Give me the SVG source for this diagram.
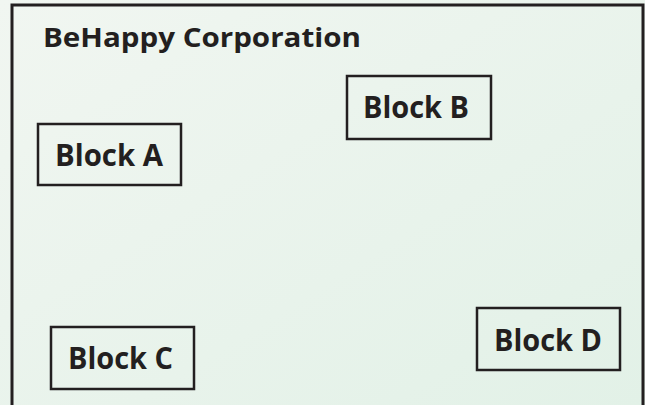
<svg xmlns="http://www.w3.org/2000/svg" width="645" height="405" viewBox="0 0 645 405">
<defs>
<linearGradient id="bg" x1="0" y1="0" x2="1" y2="1">
<stop offset="0" stop-color="#f1f6f1"/>
<stop offset="1" stop-color="#e2f1e7"/>
</linearGradient>
<style>
.frame{fill:none;stroke:#231f20;stroke-width:3}
.box{fill:none;stroke:#231f20;stroke-width:2.5}
.lbl{font-family:"Open Sans","Liberation Sans",sans-serif;font-weight:bold;fill:#231f20;font-size:31px}
.title{font-family:"Open Sans","Liberation Sans",sans-serif;font-weight:bold;fill:#231f20;font-size:27px}
</style>
</defs>
<rect x="0" y="0" width="645" height="405" fill="url(#bg)"/>
<g id="corporation">
<rect class="frame" x="12" y="5" width="631" height="420"/>
<text class="title" x="43" y="47" textLength="318" lengthAdjust="spacingAndGlyphs">BeHappy Corporation</text>
</g>
<g id="blockA">
<rect class="box" x="38" y="124" width="143" height="61"/>
<text class="lbl" x="55" y="166" textLength="108" lengthAdjust="spacingAndGlyphs">Block A</text>
</g>
<g id="blockB">
<rect class="box" x="347" y="76" width="144" height="63"/>
<text class="lbl" x="363" y="118" textLength="106" lengthAdjust="spacingAndGlyphs">Block B</text>
</g>
<g id="blockC">
<rect class="box" x="51" y="327" width="143" height="62"/>
<text class="lbl" x="68" y="369" textLength="105" lengthAdjust="spacingAndGlyphs">Block C</text>
</g>
<g id="blockD">
<rect class="box" x="477" y="308" width="143" height="62"/>
<text class="lbl" x="494" y="351" textLength="108" lengthAdjust="spacingAndGlyphs">Block D</text>
</g>
<g id="connectors"></g>
</svg>
